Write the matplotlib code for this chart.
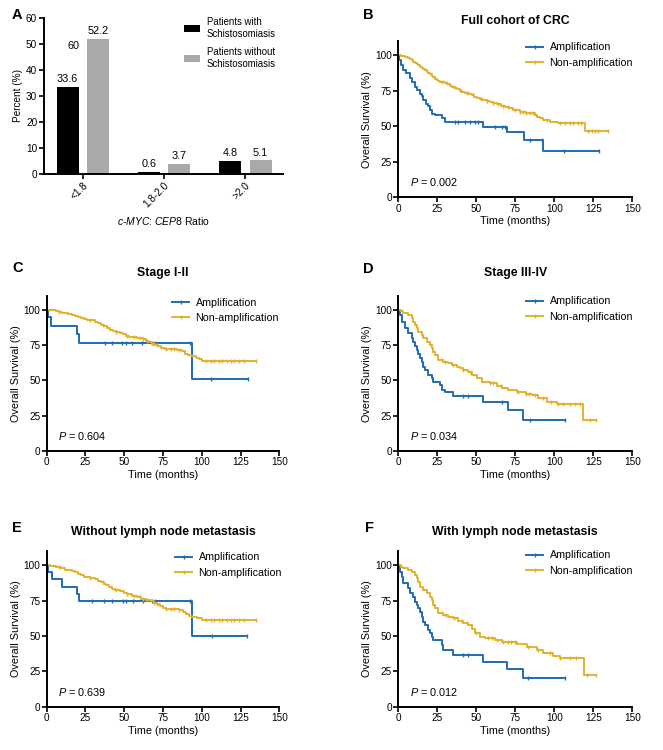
"""Schistosomiasis c-MYC ratio bars (A) and Kaplan-Meier survival panels (B-F)."""

import matplotlib

matplotlib.use("Agg")
import matplotlib.pyplot as plt
import numpy as np
from matplotlib.lines import Line2D

_FIG_W = 663
_FIG_H = 750
_OUTPUT = "out.png"

_BLUE = "#1f6db3"
_GOLD = "#e2b22c"
_GRAY = "#a9a9a9"

# ---- panel A: c-MYC:CEP8 ratio distribution ----
RATIO_CATEGORIES = ["<1.8", "1.8-2.0", ">2.0"]
WITH_SCHISTO = [33.6, 0.6, 4.8]
WITHOUT_SCHISTO = [52.2, 3.7, 5.1]

# ---- panel B: full cohort ----
B_AMP_T = [0.5, 1.5, 3, 5, 7.5, 8.5, 10.5, 12, 14, 15, 16, 18, 19.2, 20.3, 21.4,
           23.5, 27.8, 30, 54.5, 69.5, 80.6, 93]
B_AMP_S = [97, 93.5, 90, 87.5, 84, 81.5, 78, 75.5, 73, 71, 68.5, 66, 64, 61.5, 59,
           58, 55.5, 53, 49.7, 46, 40.4, 32.6]
B_AMP_END = 128.7
B_AMP_CENSOR = [36.3, 38.5, 42.7, 45.9, 49.1, 51.3, 62, 66.2, 68.4, 84.2, 92.1, 106, 128.7]
B_NON_T = [2, 4.3, 6, 7.5, 8.5, 9.6, 10.7, 11.8, 12.8, 13.9, 15, 16, 17, 18.2, 19.2,
           20.3, 21.4, 22.4, 23.5, 24.6, 25.6, 26.7, 29.9, 31.5, 33.1, 34.7, 36.3, 37.9,
           39.5, 41, 42.7, 45, 47, 48.5, 50.2, 52.3, 54.5, 56.6, 58.8, 61, 63, 65.7,
           68.4, 71, 73.7, 78, 82, 87.8, 88.9, 91, 93, 97.3, 102.6, 119.7]
B_NON_S = [99.3, 98.5, 98, 97.3, 96.5, 95.5, 94.8, 94, 93, 92, 91.2, 90.4, 89.5, 88.5,
           87.5, 86.5, 85.5, 84.5, 83.5, 82.6, 81.8, 81, 80.3, 79.5, 78.6, 77.9, 77.2,
           76, 75, 74, 73.2, 72.6, 72, 70.8, 69.7, 69.1, 68.5, 67.7, 67, 66.2, 65.5,
           64.6, 63.8, 62.6, 61.5, 60.3, 59.2, 58, 56.8, 55.6, 54.4, 53.2, 52.1, 46.7]
B_NON_END = 134.7
B_NON_CENSOR = [28, 31, 36, 40, 44, 48, 53, 57, 61, 64, 67, 70, 75, 78, 80, 82, 84.5,
                86.6, 95, 103.7, 106.8, 110, 112, 115.3, 117.4, 121.8, 124, 126, 128.2,
                134.7]

# ---- panel C: stage I-II ----
C_AMP_T = [1, 2.8, 19.7, 21, 93.5]
C_AMP_S = [94.5, 88.5, 82.5, 76.5, 51]
C_AMP_END = 130
C_AMP_CENSOR = [37.3, 41.9, 48.6, 51.1, 55.3, 61.5, 68.1, 69.8, 92.4, 105.7, 130]
C_NON_T = [3, 6, 8, 10, 12, 14, 16, 18, 20, 22, 24, 26, 29, 31, 33, 35, 37, 39, 41, 43,
           45, 47, 49, 51, 53, 55, 58, 62, 64, 66, 68, 70, 72, 74, 76, 84, 87, 89, 91,
           93, 96, 98, 100]
C_NON_S = [99.5, 99, 98.5, 98, 97.5, 97, 96, 95.5, 95, 94, 93.5, 93, 92.5, 91.5, 90.5,
           89.5, 88.5, 87, 86, 85, 84, 83.5, 82.5, 81.5, 81, 80.5, 80, 79, 78, 77, 76,
           75, 74, 73, 72, 71.5, 70.5, 69, 68, 67, 66, 65, 63.5]
C_NON_END = 135
C_NON_CENSOR = [8, 28, 36, 45, 52, 56, 60, 62, 65, 69, 71, 77, 80, 82, 85, 103, 106,
                108, 111, 113, 116, 119, 121, 124, 127, 135]

# ---- panel D: stage III-IV ----
D_AMP_T = [1.1, 2.1, 4.3, 6.4, 8.5, 9.6, 10.7, 11.8, 12.8, 13.9, 15, 16, 17.1, 19.2,
           21.4, 22.4, 26.7, 27.8, 29.9, 35.3, 54.5, 70.5, 80.1]
D_AMP_S = [96, 91.5, 87, 83.3, 79.7, 77.4, 74, 71.5, 69, 65.6, 63.3, 59.7, 57.3, 54,
           51.4, 49, 46.7, 43.5, 42, 39, 34.5, 29.3, 22]
D_AMP_END = 106.8
D_AMP_CENSOR = [41.5, 44.9, 66.2, 84.4, 106.8]
D_NON_T = [1.5, 3.2, 6.4, 8.5, 9.6, 10.7, 11.8, 12.8, 15, 16, 18.2, 20.3, 21.4, 22.4,
           23.5, 25.6, 28.8, 32, 34.2, 37.4, 39.5, 41.7, 44.9, 47, 50.2, 53.4, 58.8, 63,
           66.2, 70.5, 76, 82, 86, 89.7, 95, 101.5, 118.6]
D_NON_S = [99, 97.5, 96.2, 94, 91.5, 89.2, 86.8, 84.4, 82, 79.7, 77.4, 75, 72.6, 70.3,
           68, 64.5, 63.2, 62, 61, 59.7, 58.5, 57.3, 56, 53.8, 51.4, 49, 48, 46, 44.5,
           43.2, 42, 40.5, 39.5, 37.3, 35, 33.5, 22]
D_NON_END = 127
D_NON_CENSOR = [28, 30, 35, 41.7, 46, 59, 61, 66, 77, 82, 84, 87.6, 93, 98, 102.6,
                105.8, 110, 113, 116.5, 122.9, 127]

# ---- panel E: without lymph node metastasis ----
E_AMP_T = [1, 3.2, 10.1, 19.3, 20.8, 93.5]
E_AMP_S = [95.5, 90.3, 85, 79.7, 75, 50]
E_AMP_END = 129
E_AMP_CENSOR = [29, 37, 42.3, 49, 51.1, 55.4, 61.9, 68.1, 69.8, 92.4, 106.4, 129]
E_NON_T = [2, 6, 9, 12, 14, 16, 18, 20, 22, 24, 26, 28, 31, 33, 35, 37, 38, 40, 42, 44,
           47, 50, 52, 55, 58, 61, 64, 67, 69, 71, 73, 75, 77, 85, 88, 90, 92, 94, 97,
           100]
E_NON_S = [99.5, 99, 98, 97, 96.5, 96, 95, 94, 93, 92, 91.5, 91, 90, 89, 88, 87, 86,
           84.5, 83, 82.5, 81.5, 80.5, 79.5, 78.5, 77.5, 76.5, 75.5, 74.5, 73.5, 72.5,
           71, 70, 69, 68.5, 67, 65.5, 64.5, 63.5, 62.5, 61]
E_NON_END = 135
E_NON_CENSOR = [8, 28, 36, 45, 52, 56, 60, 62, 65, 69, 71, 77, 80, 82, 85, 103, 106,
                108, 111, 113, 116, 119, 121, 124, 127, 135]

# ---- panel F: with lymph node metastasis ----
F_AMP_T = [1.1, 2.1, 3.2, 6.4, 7.5, 9.6, 10.7, 11.8, 12.8, 13.9, 15, 16, 17.1, 19.2,
           20.3, 21.4, 22.4, 27.8, 28.8, 35.3, 54.5, 69.4, 80.1]
F_AMP_S = [95.5, 92, 87.3, 83.7, 80.2, 77.8, 74.2, 71.9, 69.6, 67.2, 63.6, 60.1, 57.8,
           54.2, 51.9, 49.5, 47.1, 43.6, 40.1, 36.6, 31.4, 27, 20]
F_AMP_END = 106.8
F_AMP_CENSOR = [41.7, 44.9, 83.3, 106.8]
F_NON_T = [1.5, 3.2, 6.4, 8.5, 10.7, 11.8, 12.8, 13.9, 16, 18.2, 20.3, 21.4, 22.4,
           23.5, 25.6, 28.8, 32, 35.3, 38.5, 41.7, 44.9, 47, 49.1, 52.4, 55.6, 62, 66.2,
           75.9, 82.3, 88.7, 93, 99.4, 103.6, 119]
F_NON_S = [99, 97.8, 96.6, 95, 93, 90.8, 88.4, 85, 82.5, 80.2, 77.8, 75.5, 72, 69.6,
           66, 65, 63.6, 62.4, 60.6, 59, 57.8, 55, 52, 49.5, 48.4, 47.2, 46, 44.3, 42.5,
           40, 37.7, 35.8, 34.2, 22.5]
F_NON_END = 127
F_NON_CENSOR = [27.8, 30, 36, 40.6, 43.8, 50, 57.7, 60, 63, 67.3, 70, 72, 75, 83, 89.7,
                97, 103.6, 110, 114, 120.7, 127]

P_VALUES = ["0.002", "0.604", "0.034", "0.639", "0.012"]
KM_TITLES = ["Full cohort of CRC", "Stage I-II", "Stage III-IV",
             "Without lymph node metastasis", "With lymph node metastasis"]


def _fig_xy(px, py):
    """Pixel position (from top-left) to figure fraction."""
    return px / _FIG_W, 1 - py / _FIG_H


def _px_rect(left, top, right, bottom):
    return [left / _FIG_W, 1 - bottom / _FIG_H, (right - left) / _FIG_W, (bottom - top) / _FIG_H]


def _style_axes(ax):
    for side in ("top", "right"):
        ax.spines[side].set_visible(False)
    for side in ("left", "bottom"):
        ax.spines[side].set_linewidth(1.4)
    ax.tick_params(direction="out", length=3.5, width=1.2, pad=1, labelsize=7.2)


def _plot_km(ax, times, surv, end, censor, color):
    t = [0.0] + list(times) + [end]
    s = [100.0] + list(surv) + [surv[-1]]
    ax.step(t, s, where="post", color=color, lw=1.4)
    idx = np.searchsorted(t, censor, side="right") - 1
    ax.plot(censor, np.asarray(s)[idx], ls="none", marker="|", ms=3.5, mew=1.0, color=color)


def _km_panel(fig, rect, amp, non, title, title_y, p_value, legend_xy):
    ax = fig.add_axes(_px_rect(*rect))
    _plot_km(ax, *amp, color=_BLUE)
    _plot_km(ax, *non, color=_GOLD)
    ax.set_xlim(0, 150)
    ax.set_ylim(0, 110)
    ax.set_xticks(np.arange(0, 151, 25))
    ax.set_yticks(np.arange(0, 101, 25))
    _style_axes(ax)
    ax.set_xlabel("Time (months)", fontsize=7.8, labelpad=2)
    ax.set_ylabel("Overall Survival (%)", fontsize=7.8, labelpad=2)
    ax.text(0.05, 0.095, rf"$\it{{P}}$ = {p_value}", transform=ax.transAxes,
            fontsize=7.8, va="center", ha="left")
    cx = (rect[0] + rect[2]) / 2
    fig.text(*_fig_xy(cx, title_y), title, fontsize=8.8, fontweight="bold",
             ha="center", va="center")
    handles = [
        Line2D([], [], color=_BLUE, lw=1.4, marker="|", ms=3.5, mew=1.0),
        Line2D([], [], color=_GOLD, lw=1.4, marker="|", ms=3.5, mew=1.0),
    ]
    ax.legend(handles, ["Amplification", "Non-amplification"], loc="upper left",
              bbox_to_anchor=_fig_xy(*legend_xy), bbox_transform=fig.transFigure,
              frameon=False, fontsize=7.7, handlelength=1.6, handletextpad=0.6,
              labelspacing=0.5, borderpad=0, borderaxespad=0, numpoints=1)
    return ax


def _bar_panel(fig):
    ax = fig.add_axes(_px_rect(43.5, 18.3, 282.7, 173.7))
    x = np.arange(len(RATIO_CATEGORIES))
    width = 0.27
    b1 = ax.bar(x - 0.188, WITH_SCHISTO, width, color="black",
                label="Patients with\nSchistosomiasis")
    b2 = ax.bar(x + 0.188, WITHOUT_SCHISTO, width, color=_GRAY,
                label="Patients without\nSchistosomiasis")
    ax.bar_label(b1, fmt="%.1f", padding=2, fontsize=7.8)
    ax.bar_label(b2, fmt="%.1f", padding=2, fontsize=7.8)
    # stray value label present in the original figure
    ax.text(-0.117, 49.4, "60", fontsize=7.8, ha="center", va="center")
    ax.set_xlim(-0.484, 2.46)
    ax.set_ylim(0, 60)
    ax.set_yticks(np.arange(0, 61, 10))
    ax.set_xticks(x)
    ax.set_xticklabels(RATIO_CATEGORIES, rotation=45, ha="right",
                       rotation_mode="anchor", fontsize=7.5)
    _style_axes(ax)
    ax.set_ylabel("Percent (%)", fontsize=7.2, labelpad=2)
    ax.set_xlabel(r"$\it{c}$-$\it{MYC}$: $\it{CEP8}$ Ratio", fontsize=7.5, labelpad=4)
    ax.legend(loc="upper left", bbox_to_anchor=_fig_xy(184, 17),
              bbox_transform=fig.transFigure, frameon=False, fontsize=6.9,
              handlelength=1.7, handleheight=0.8, handletextpad=0.7,
              labelspacing=0.9, borderpad=0, borderaxespad=0)
    return ax


def main():
    plt.rcParams["font.family"] = ["Liberation Sans", "DejaVu Sans"]
    plt.rcParams["mathtext.fontset"] = "custom"
    plt.rcParams["mathtext.rm"] = "Liberation Sans"
    plt.rcParams["mathtext.it"] = "Liberation Sans:italic"

    fig = plt.figure(figsize=(_FIG_W / 100, _FIG_H / 100), dpi=100)

    _bar_panel(fig)

    _km_panel(fig, (398.3, 41.1, 632.3, 197.3),
              (B_AMP_T, B_AMP_S, B_AMP_END, B_AMP_CENSOR),
              (B_NON_T, B_NON_S, B_NON_END, B_NON_CENSOR),
              KM_TITLES[0], 21, P_VALUES[0], (526, 42.5))
    _km_panel(fig, (46.7, 295.6, 279.3, 451),
              (C_AMP_T, C_AMP_S, C_AMP_END, C_AMP_CENSOR),
              (C_NON_T, C_NON_S, C_NON_END, C_NON_CENSOR),
              KM_TITLES[1], 273, P_VALUES[1], (172, 297.5))
    _km_panel(fig, (398.3, 295.6, 632.3, 451),
              (D_AMP_T, D_AMP_S, D_AMP_END, D_AMP_CENSOR),
              (D_NON_T, D_NON_S, D_NON_END, D_NON_CENSOR),
              KM_TITLES[2], 273, P_VALUES[2], (526, 296.5))
    _km_panel(fig, (46.7, 551.2, 279.3, 706.7),
              (E_AMP_T, E_AMP_S, E_AMP_END, E_AMP_CENSOR),
              (E_NON_T, E_NON_S, E_NON_END, E_NON_CENSOR),
              KM_TITLES[3], 532, P_VALUES[3], (175, 552.5))
    _km_panel(fig, (398.3, 551.2, 632.3, 706.7),
              (F_AMP_T, F_AMP_S, F_AMP_END, F_AMP_CENSOR),
              (F_NON_T, F_NON_S, F_NON_END, F_NON_CENSOR),
              KM_TITLES[4], 532, P_VALUES[4], (526, 550.5))

    for letter, (px, py) in zip("ABCDEF", [(17, 15), (368, 15), (18, 268),
                                           (368, 269), (17, 528), (369, 528)]):
        fig.text(*_fig_xy(px, py), letter, fontsize=10.5, fontweight="bold",
                 ha="center", va="center")

    fig.savefig(_OUTPUT, dpi=100)
    plt.close(fig)


if __name__ == "__main__":
    main()
